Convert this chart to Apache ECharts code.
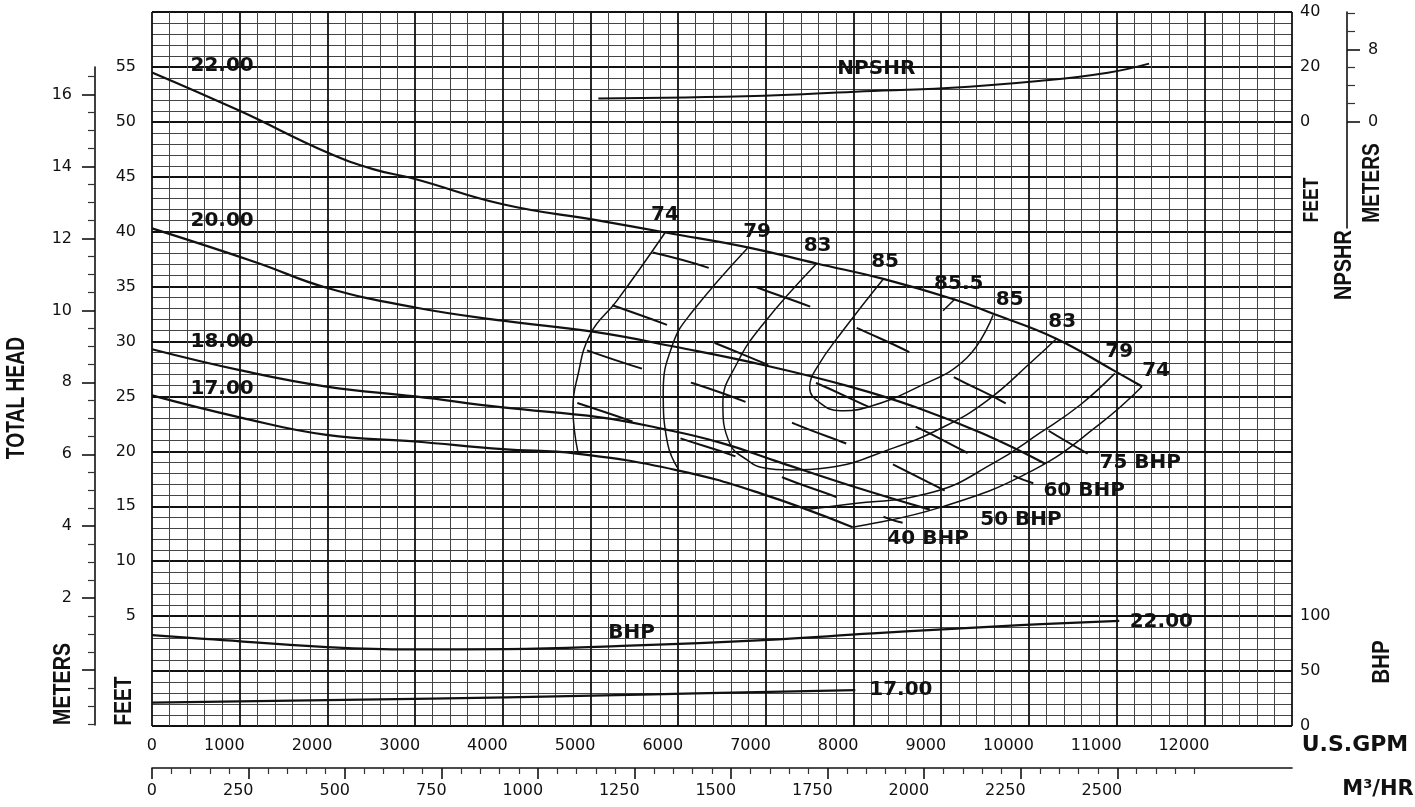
<!DOCTYPE html>
<html>
<head>
<meta charset="utf-8">
<title>Pump curve</title>
<script src="https://cdn.jsdelivr.net/npm/echarts@6/dist/echarts.min.js"></script>
<style>
  html, body { margin: 0; padding: 0; background: #fff; }
  #chart { width: 1415px; height: 807px; }
</style>
</head>
<body>
<div id="chart"></div>
<script>
// ---- data: [US GPM, total head ft] unless noted ----
var head22 = [[0,54.5],[1000,51.0],[2000,47.2],[2520,45.7],[3000,44.8],[4000,42.5],[5100,41.0],[5870,39.9],[6780,38.6],[7580,37.1],[8340,35.7],[9160,33.8],[9600,32.5],[10300,30.3],[10960,27.4],[11290,25.9]];
var head20 = [[0,40.3],[1190,37.2],[1990,34.9],[3000,33.1],[4000,31.9],[5030,30.9],[5980,29.5],[7010,27.8],[7960,25.9],[8720,24.0],[9480,21.6],[10180,18.9]];
var head18 = [[0,29.3],[1000,27.4],[1990,25.9],[3000,25.0],[4000,24.0],[5110,23.1],[5790,22.1],[6480,20.8],[7160,19.0],[7960,16.9],[8870,14.7]];
var head17 = [[0,25.1],[1000,23.1],[1990,21.5],[3000,20.9],[4000,20.2],[4840,19.8],[5980,18.3],[6930,16.2],[7990,13.1]];

// efficiency contours (%)
var eff74L = [[5850,39.9],[5300,33.7],[5000,30.7],[4850,26.7],[4800,24.0],[4860,19.8]];
var eff79L = [[6790,38.5],[6140,32.5],[5940,29.8],[5830,25.5],[5880,20.7],[6000,18.4]];
var eff83 = [[7580,37.1],[6970,31.6],[6670,28.0],[6510,24.4],[6590,20.7],[6790,19.2],[6970,18.5],[7280,18.3],[7700,18.5],[8450,20.3],[9020,22.2],[9520,24.6],[10050,28.3],[10320,30.3]];
var eff85 = [[8340,35.7],[7880,31.0],[7580,27.6],[7500,25.8],[7620,24.4],[7850,23.7],[8150,24.0],[8720,25.8],[9290,28.5],[9590,32.4]];
var eff855 = [[9020,32.8],[9160,33.9]];
var eff79R = [[7450,14.7],[7850,15.1],[8910,16.3],[9590,18.9],[10130,21.7],[10580,24.2],[10980,27.1]];
var eff74R = [[7990,13.1],[8990,14.9],[10050,18.3],[10810,22.5],[11290,25.9]];

// constant horsepower lines (dashed)
var bhp75 = [[5710,38.1],[6390,36.6],[6910,34.9],[7560,33.0],[8050,31.2],[8670,28.9],[9160,26.7],[9730,24.4],[10220,21.9],[10670,19.8]];
var bhp60 = [[5250,33.3],[5880,31.5],[6440,29.8],[7050,27.8],[7580,26.2],[8190,24.0],[8720,22.2],[9290,19.9],[9820,17.8],[10050,17.1]];
var bhp50 = [[4960,29.2],[5600,27.5],[6170,26.2],[6800,24.4],[7330,22.5],[8100,20.1],[8850,17.2],[9410,14.9]];
var bhp40 = [[4850,24.4],[5450,22.8],[6020,21.2],[6670,19.5],[7200,17.6],[7850,15.7],[8390,13.9],[8560,13.5]];

// brake horsepower curves [GPM, BHP]
var power22 = [[0,82.7],[700,78.8],[1950,72.1],[2950,69.7],[4050,70.0],[5300,72.7],[6970,78.2],[8220,84.3],[9070,88.2],[9900,91.8],[11030,95.7]];
var power17 = [[0,21.2],[4050,26.1],[5710,28.8],[8020,32.7]];

// NPSHR [GPM, ft]
var npshr = [[5090,8.5],[6980,9.5],[8020,11.0],[9070,12.3],[10110,14.9],[10900,17.9],[11370,21.2]];

// text placed on the sheet [label, GPM, head ft]
var notes = [
  ['22.00',800,55.1],['20.00',800,41.0],['18.00',800,30.0],['17.00',800,25.7],
  ['74',5850,41.5],['79',6900,40.0],['83',7590,38.7],['85',8360,37.3],['85.5',9200,35.3],
  ['85',9780,33.8],['83',10380,31.8],['79',11030,29.1],['74',11450,27.3],
  ['75 BHP',11270,19.0],['60 BHP',10630,16.4],['50 BHP',9910,13.8],['40 BHP',8850,12.0],
  ['NPSHR',8260,54.8],['BHP',5470,3.5],['22.00',11510,4.5],['17.00',8540,-1.7]
];

// ---- tick helpers ----
function ticksFrom(a, b, step) {
  var out = [];
  var n = Math.round((b - a) / step);
  for (var i = 0; i <= n; i++) out.push(+(a + i * step).toFixed(3));
  return out;
}
function without(list, drop) {
  return list.filter(function (v) { return drop.indexOf(v) < 0; });
}
var meterMajor = ticksFrom(0, 16, 2);
var meterLabels = ticksFrom(2, 16, 2);
var meterMinor = without(ticksFrom(-1.5, 16.5, 0.5), meterMajor);
var npsMajor = [0, 8];
var npsMinor = [2, 4, 6, 10, 12];
var cubicMajor = ticksFrom(0, 2500, 250);
var cubicMinor = without(ticksFrom(0, 2700, 50), cubicMajor);

var ink = '#111';
var numFont = 'DejaVu Sans';
var titleFont = "'Liberation Sans', Arial, sans-serif";
var numLabel = { color: ink, fontSize: 16, fontFamily: numFont };
function plain(v) { return String(v); }

var chart = echarts.init(document.getElementById('chart'), null, { renderer: 'canvas' });

function curve(name, data, width, yIdx, dash) {
  return {
    name: name, type: 'line', data: data, xAxisIndex: 0, yAxisIndex: yIdx || 0,
    showSymbol: false, smooth: 0.45, silent: true,
    lineStyle: { color: ink, width: width, type: dash || 'solid' }
  };
}

// axis titles, squeezed along the text like the condensed face on the sheet
function title(text, x, y, size, rotate, squeeze, family) {
  return {
    type: 'text', x: x, y: y, rotation: rotate ? Math.PI / 2 : 0,
    scaleX: squeeze || 1, silent: true,
    style: {
      text: text, fill: ink, fontSize: size, fontWeight: 'bold',
      fontFamily: family || titleFont, textAlign: 'center', textVerticalAlign: 'middle'
    }
  };
}

var titles = [
  title('TOTAL HEAD', 17, 398, 25, true, 0.77),
  title('METERS', 63, 684, 24, true, 0.82),
  title('FEET', 124, 701, 24, true, 0.8),
  title('FEET', 1312, 200, 22, true, 0.8),
  title('NPSHR', 1345, 265, 23, true, 0.87),
  title('METERS', 1373, 183, 23, true, 0.83),
  title('BHP', 1383, 662, 23, true, 0.9),
  title('U.S.GPM', 1355, 745, 22, false, 1, numFont),
  title('M\u00b3/HR', 1378, 790, 21, false, 1, numFont)
];

chart.setOption({
  animation: false,
  backgroundColor: '#fff',
  grid: [
    { left: 152, right: 123, top: 12, bottom: 81 },
    { left: 95, width: 10, top: 67, bottom: 82 },
    { left: 1347, width: 10, top: 12, bottom: 579 },
    { left: 152, right: 123, top: 760, bottom: 39 }
  ],
  xAxis: [
    {
      type: 'value', gridIndex: 0, min: 0, max: 13000, interval: 1000,
      axisLine: { show: false }, axisTick: { show: false },
      axisLabel: Object.assign({}, numLabel, {
        margin: 12, align: 'right', padding: [0, -5, 0, 0],
        formatter: function (v) { return v <= 12000 ? String(v) : ''; }
      }),
      splitLine: { show: true, lineStyle: { color: '#111', width: 1.8 } },
      minorTick: { show: false, splitNumber: 5 },
      minorSplitLine: { show: true, lineStyle: { color: '#444', width: 1 } }
    },
    { type: 'value', gridIndex: 1, show: false, min: 0, max: 1 },
    { type: 'value', gridIndex: 2, show: false, min: 0, max: 1 },
    {
      type: 'value', gridIndex: 3, min: 0, max: 13000 / 4.4029, position: 'bottom',
      axisLine: { show: true, lineStyle: { color: ink, width: 1.6 } },
      axisTick: { show: true, length: 11, customValues: cubicMajor, lineStyle: { color: ink, width: 1.6 } },
      axisLabel: Object.assign({}, numLabel, {
        margin: 15, align: 'right', padding: [0, -5, 0, 0], customValues: cubicMajor, formatter: plain
      }),
      splitLine: { show: false }
    },
    {
      type: 'value', gridIndex: 3, min: 0, max: 13000 / 4.4029, position: 'bottom', offset: 0,
      axisLine: { show: false },
      axisTick: { show: true, length: 6, customValues: cubicMinor, lineStyle: { color: '#333', width: 1.2 } },
      axisLabel: { show: false }, splitLine: { show: false }
    }
  ],
  yAxis: [
    {
      type: 'value', gridIndex: 0, min: -5, max: 60, interval: 5, position: 'left',
      axisLine: { show: false }, axisTick: { show: false },
      axisLabel: Object.assign({}, numLabel, {
        margin: 16,
        formatter: function (v) { return (v >= 5 && v <= 55) ? String(v) : ''; }
      }),
      splitLine: { show: true, lineStyle: { color: '#111', width: 1.8 } },
      minorTick: { show: false, splitNumber: 5 },
      minorSplitLine: { show: true, lineStyle: { color: '#444', width: 1 } }
    },
    {
      // NPSHR feet, right
      type: 'value', gridIndex: 0, min: -220, max: 40, interval: 20, position: 'right',
      axisLine: { show: false }, axisTick: { show: false }, splitLine: { show: false },
      axisLabel: Object.assign({}, numLabel, {
        margin: 8, showMaxLabel: true,
        formatter: function (v) { return v >= 0 ? String(v) : ''; }
      })
    },
    {
      // BHP, right
      type: 'value', gridIndex: 0, min: 0, max: 650, interval: 50, position: 'right',
      axisLine: { show: false }, axisTick: { show: false }, splitLine: { show: false },
      axisLabel: Object.assign({}, numLabel, {
        margin: 8, showMinLabel: true,
        formatter: function (v) { return v <= 100 ? String(v) : ''; }
      })
    },
    {
      // head metres, left scale
      type: 'value', gridIndex: 1, min: -5 / 3.2808, max: 55 / 3.2808, position: 'left',
      axisLine: { show: true, lineStyle: { color: ink, width: 1.6 } },
      axisTick: { show: true, length: 13, customValues: meterMajor, lineStyle: { color: ink, width: 1.6 } },
      axisLabel: Object.assign({}, numLabel, { margin: 23, customValues: meterLabels, formatter: plain }),
      splitLine: { show: false }
    },
    {
      type: 'value', gridIndex: 1, min: -5 / 3.2808, max: 55 / 3.2808, position: 'left',
      axisLine: { show: false },
      axisTick: { show: true, length: 7, customValues: meterMinor, lineStyle: { color: '#333', width: 1.2 } },
      axisLabel: { show: false }, splitLine: { show: false }
    },
    {
      // NPSHR metres, right scale
      type: 'value', gridIndex: 2, min: -11.86, max: 12.19, position: 'left',
      axisLine: { show: true, lineStyle: { color: ink, width: 1.6 } },
      axisTick: { show: true, inside: true, length: 13, customValues: npsMajor, lineStyle: { color: ink, width: 1.6 } },
      axisLabel: Object.assign({}, numLabel, { inside: true, margin: 21, customValues: npsMajor, formatter: plain }),
      splitLine: { show: false }
    },
    {
      type: 'value', gridIndex: 2, min: -11.86, max: 12.19, position: 'left',
      axisLine: { show: false },
      axisTick: { show: true, inside: true, length: 8, customValues: npsMinor, lineStyle: { color: '#333', width: 1.2 } },
      axisLabel: { show: false }, splitLine: { show: false }
    },
    { type: 'value', gridIndex: 3, show: false, min: 0, max: 1 }
  ],
  series: [
    curve('22.00', head22, 2.2),
    curve('20.00', head20, 2.2),
    curve('18.00', head18, 2.2),
    curve('17.00', head17, 2.2),
    curve('74 left', eff74L, 1.5),
    curve('79 left', eff79L, 1.5),
    curve('83', eff83, 1.5),
    curve('85', eff85, 1.5),
    curve('85.5', eff855, 1.5),
    curve('79 right', eff79R, 1.5),
    curve('74 right', eff74R, 1.5),
    curve('75 BHP', bhp75, 2, 0, [58, 51]),
    curve('60 BHP', bhp60, 2, 0, [58, 51]),
    curve('50 BHP', bhp50, 2, 0, [58, 51]),
    curve('40 BHP', bhp40, 2, 0, [58, 51]),
    curve('BHP 22.00', power22, 2.2, 2),
    curve('BHP 17.00', power17, 2.2, 2),
    curve('NPSHR', npshr, 2, 1)
  ],
  graphic: titles
});

// curve labels, placed through the head/flow scales
var noteTexts = notes.map(function (n) {
  var p = chart.convertToPixel({ xAxisIndex: 0, yAxisIndex: 0 }, [n[1], n[2]]);
  return {
    type: 'text', x: p[0], y: p[1], silent: true, z: 10,
    style: {
      text: n[0], fill: ink, fontSize: 20, fontWeight: 'bold', fontFamily: numFont,
      textAlign: 'center', textVerticalAlign: 'middle'
    }
  };
});
chart.setOption({ graphic: titles.concat(noteTexts) });
</script>
</body>
</html>
